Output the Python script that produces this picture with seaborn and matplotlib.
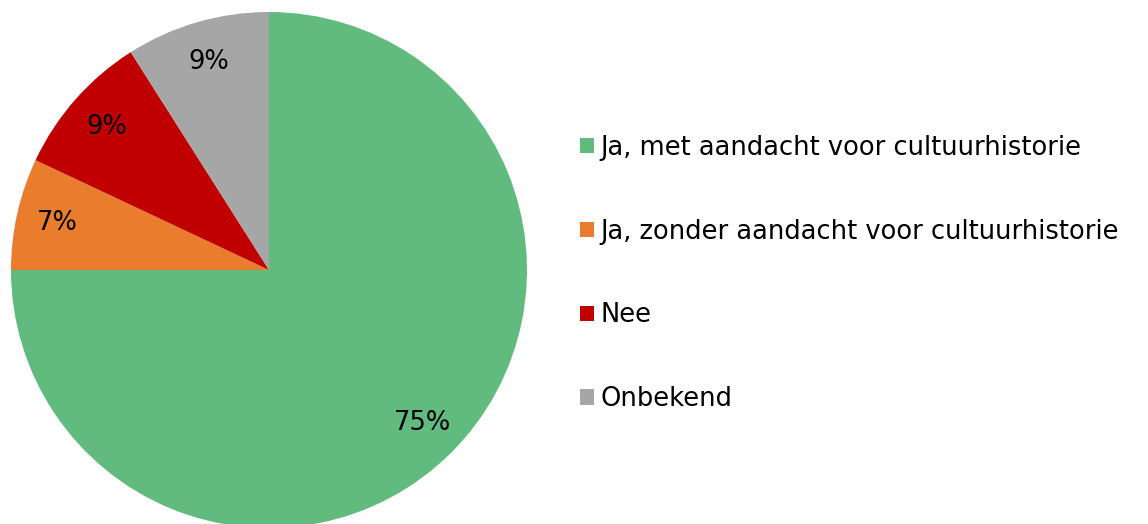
import matplotlib
matplotlib.use("Agg")
import matplotlib.pyplot as plt
import seaborn as sns

categories = ["Ja, met aandacht voor cultuurhistorie",
              "Ja, zonder aandacht voor cultuurhistorie",
              "Nee",
              "Onbekend"]
shares = [75, 7, 9, 9]
slice_colors = ["#61BB7E", "#EA7C2D", "#C00000", "#A6A6A6"]

sns.set_theme(style="white")
plt.rcParams['font.family'] = ['DejaVu Sans']

fig = plt.figure(figsize=(11.48, 5.24), dpi=100)
# pie axes: centre ~ (269, 270) px, radius ~ 258 px
ax = fig.add_axes([11 / 1148, -4 / 524, 516 / 1148, 516 / 524])

wedges, texts, autotexts = ax.pie(
    shares,
    colors=slice_colors,
    startangle=90,
    counterclock=False,
    autopct=lambda p: f"{p:.0f}%",
    pctdistance=0.84,
    wedgeprops={"linewidth": 0},
    textprops={"fontsize": 18.5, "color": "black"},
    radius=1,
)
ax.set_xlim(-1, 1)
ax.set_ylim(-1, 1)
ax.set_aspect("equal")
ax.axis("off")

leg = fig.legend(wedges, categories,
                 loc="center left", bbox_to_anchor=(580 / 1148, 0.478),
                 frameon=False, fontsize=18.5,
                 handlelength=0.55, handleheight=0.55, handletextpad=0.25,
                 labelspacing=2.25, borderpad=0, borderaxespad=0)
for t in leg.get_texts():
    t.set_color("black")

fig.savefig("out.png", dpi=100)
